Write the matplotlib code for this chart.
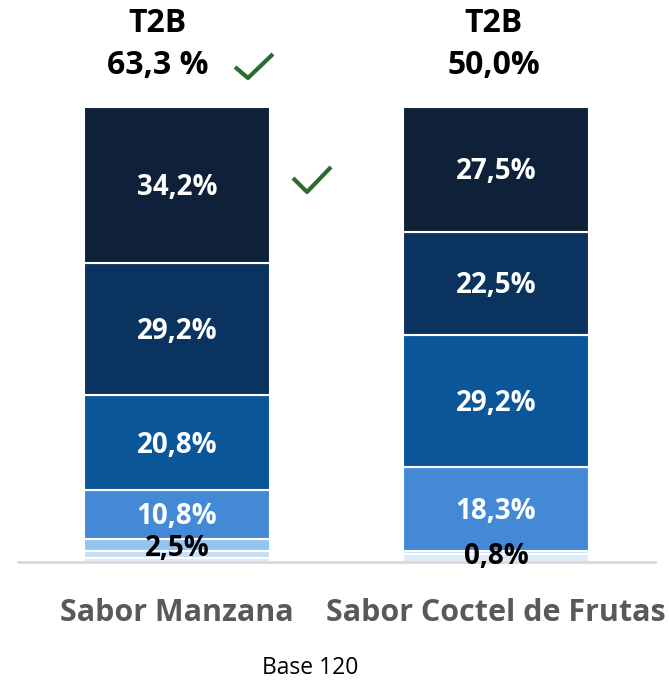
import matplotlib
matplotlib.use("Agg")
import matplotlib.pyplot as plt
from matplotlib.lines import Line2D
import numpy as np

plt.rcParams['font.family'] = ['Open Sans', 'DejaVu Sans']

# data
categories = ["Sabor Manzana", "Sabor Coctel de Frutas"]
# segments from bottom (lightest) to top (darkest)
seg_manzana = [0.8, 1.7, 2.5, 10.8, 20.8, 29.2, 34.2]
seg_coctel = [1.7, 0.8, 0.0, 18.3, 29.2, 22.5, 27.5]
labels_manzana = ["", "", "2,5%", "10,8%", "20,8%", "29,2%", "34,2%"]
labels_coctel = ["", "0,8%", "", "18,3%", "29,2%", "22,5%", "27,5%"]
t2b = ["63,3 %", "50,0%"]
base_text = "Base 120"

colors = ["#DDEBF7", "#C5DFF8", "#94C4F2", "#4489D6", "#0B5699", "#0A345F", "#0E2138"]
label_colors = ["black", "black", "black", "white", "white", "white", "white"]

W, H = 669, 686
fig = plt.figure(figsize=(W / 100, H / 100), dpi=100)
ax = fig.add_axes([18 / W, (H - 562) / H, (655 - 18) / W, 455 / H])

x = np.array([0, 1])
width = 186 / 319
ax.set_xlim((18 - 177) / 319, (655 - 177) / 319)
ax.set_ylim(0, 100)

segs = np.array([seg_manzana, seg_coctel])
labs = [labels_manzana, labels_coctel]
bottom = np.zeros(2)
for i in range(segs.shape[1]):
    vals = segs[:, i]
    ax.bar(x, vals, width, bottom=bottom, color=colors[i], edgecolor="white", linewidth=1.5)
    for j in range(2):
        if labs[j][i]:
            y = bottom[j] + vals[j] / 2 - 0.5
            if vals[j] < 3:
                y -= 0.3
            ax.text(x[j], y, labs[j][i], ha="center", va="center",
                    color=label_colors[i], fontsize=20, fontweight="bold")
    bottom += vals

for s in ["top", "right", "left"]:
    ax.spines[s].set_visible(False)
ax.spines["bottom"].set_color("#D9D9D9")
ax.spines["bottom"].set_linewidth(2)
ax.set_yticks([])
ax.set_xticks(x)
ax.set_xticklabels(categories, fontsize=22, fontweight="bold", color="#595959")
ax.tick_params(axis="x", length=0, pad=26)

# header text is a bit off the bar centres in the original
head_x = x + np.array([-19, -2]) / 319
for j in range(2):
    ax.text(head_x[j], 100 + 84 / 4.55, "T2B", ha="center", va="center",
            fontsize=23, fontweight="bold", clip_on=False)
    ax.text(head_x[j], 100 + 41 / 4.55, t2b[j], ha="center", va="center",
            fontsize=23, fontweight="bold", clip_on=False)

fig.text(310 / W, 1 - 668 / H, base_text, ha="center", va="center", fontsize=16.5)

# check marks (figure pixel coords, y from top)
def check(pts):
    xs = [p[0] / W for p in pts]
    ys = [1 - p[1] / H for p in pts]
    fig.add_artist(Line2D(xs, ys, color="#2E6B30", linewidth=3, solid_capstyle="butt"))

check([(235, 67), (248, 78), (273, 54)])
check([(293, 178), (307, 192), (331, 167)])

fig.savefig("out.png", dpi=100)
